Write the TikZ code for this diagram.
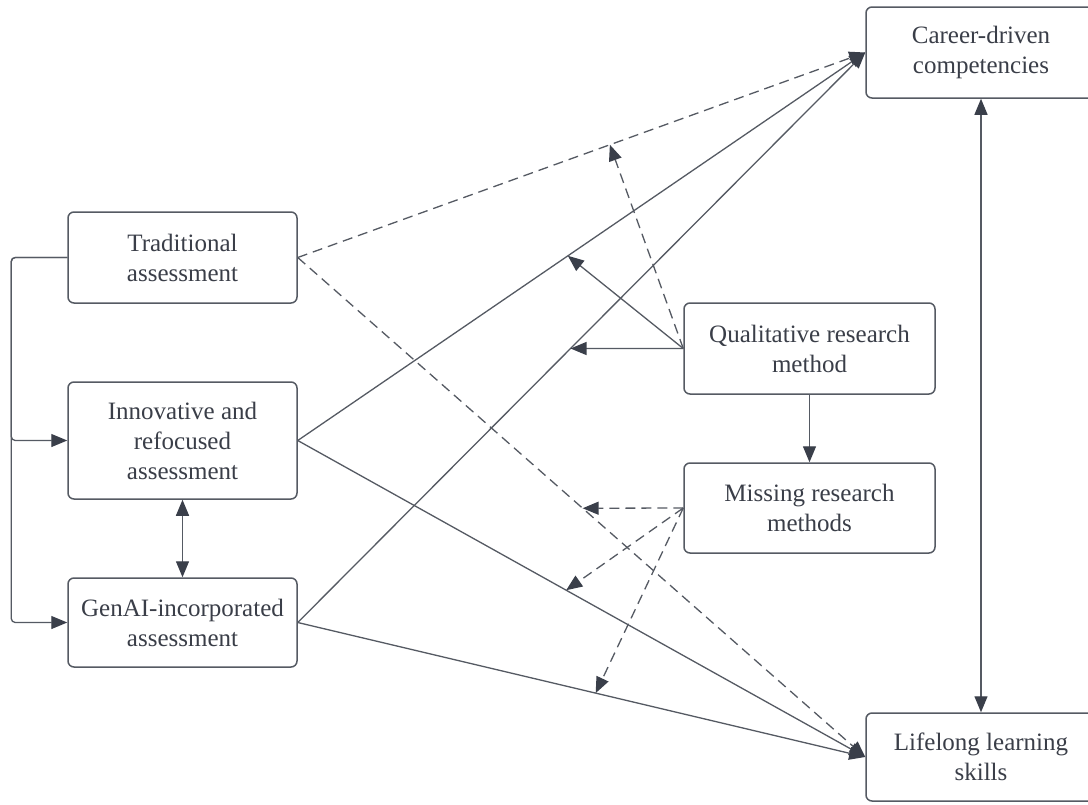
\documentclass[tikz,border=0pt]{standalone}
\usepackage{fontspec}
\setmainfont{Liberation Serif}
\usetikzlibrary{arrows.meta}
\definecolor{linec}{HTML}{555A63}
\definecolor{tipc}{HTML}{3A3F4A}
\definecolor{textc}{HTML}{3A3E48}
\tikzset{
  box/.style={draw=linec, line width=1.5pt, rounded corners=6pt, align=center,
    text=textc, inner sep=0pt, font=\fontsize{25}{30}\selectfont},
  conn/.style={draw=linec, line width=1.3pt},
  dconn/.style={conn, dash pattern=on 10pt off 6pt},
  tip/.style={-{Triangle[length=16pt,width=13pt,fill=tipc,color=tipc]}},
  dtip/.style={{Triangle[length=16pt,width=13pt,fill=tipc,color=tipc]}-{Triangle[length=16pt,width=13pt,fill=tipc,color=tipc]}}
}
\begin{document}
\begin{tikzpicture}[x=1pt,y=-1pt]
\path[use as bounding box] (0,0) rectangle (1088,804);
\clip (0,0) rectangle (1088,804);
\fill[white] (0,0) rectangle (1088,804);

\node[box, minimum width=229pt, minimum height=91pt] (trad) at (182.5,257.5) {Traditional\\assessment};
\node[box, minimum width=229pt, minimum height=117pt] (innov) at (182.5,440.5) {Innovative and\\refocused\\assessment};
\node[box, minimum width=229pt, minimum height=89pt] (genai) at (182.5,622.5) {GenAI-incorporated\\assessment};
\node[box, minimum width=230pt, minimum height=91pt] (career) at (981,52.5) {Career-driven\\competencies};
\node[box, minimum width=230pt, minimum height=88pt] (life) at (981,757) {Lifelong learning\\skills};
\node[box, minimum width=251pt, minimum height=91pt] (qual) at (809.5,348.5) {Qualitative research\\method};
\node[box, minimum width=251pt, minimum height=90pt] (miss) at (809.5,508) {Missing research\\methods};

% left bracket
\coordinate (lc) at ([xshift=-56pt]trad.west);
\draw[conn, rounded corners=4pt, tip] (trad.west) -- (lc) |- (innov.west);
\draw[conn, rounded corners=4pt, tip] (trad.west) -- (lc) |- (genai.west);

% double arrows
\draw[conn, dtip] (innov.south) -- (genai.north);
\draw[conn, dtip] (career.south) -- (life.north);

% main lines
\draw[dconn, tip] (trad.east) -- (career.west) coordinate[pos=0.55] (p3);
\draw[dconn, tip] (trad.east) -- (life.west) coordinate[pos=0.502] (p4);
\draw[conn, tip] (innov.east) -- (career.west) coordinate[pos=0.476] (p1);
\draw[conn, tip] (innov.east) -- (life.west) coordinate[pos=0.473] (p5);
\draw[conn, tip] (genai.east) -- (career.west) coordinate[pos=0.4807] (p2);
\draw[conn, tip] (genai.east) -- (life.west) coordinate[pos=0.525] (p6);

% moderators
\draw[conn, tip] (qual.west) -- (p1);
\draw[conn, tip] (qual.west) -- (p2);
\draw[dconn, tip] (qual.west) -- (p3);
\draw[conn, tip] (qual.south) -- (miss.north);
\draw[dconn, tip] (miss.west) -- (p4);
\draw[dconn, tip] (miss.west) -- (p5);
\draw[dconn, tip] (miss.west) -- (p6);
\end{tikzpicture}
\end{document}
